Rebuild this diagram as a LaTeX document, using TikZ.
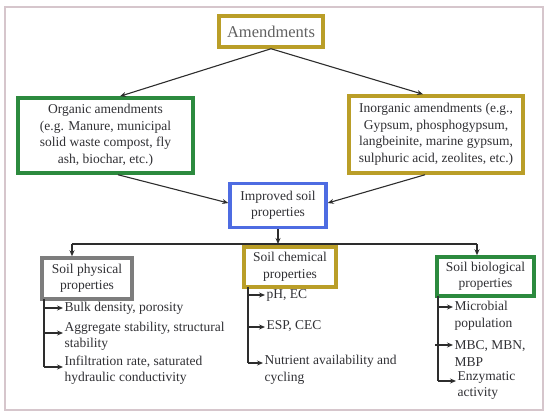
\documentclass[tikz,border=0pt]{standalone}
\usepackage{fontspec}
\setmainfont{Liberation Serif}
\usetikzlibrary{arrows.meta}
\definecolor{framec}{RGB}{214,198,204}
\definecolor{goldc}{RGB}{186,158,40}
\definecolor{greenc}{RGB}{44,138,62}
\definecolor{bluec}{RGB}{78,108,226}
\definecolor{grayc}{RGB}{125,125,125}
\definecolor{txt}{RGB}{48,48,52}
\definecolor{linec}{RGB}{45,45,45}
\tikzset{
  box/.style={draw, line width=3.5pt, inner sep=0pt, align=center, text=txt,
    font=\fontsize{13.5}{16.5}\selectfont},
  item/.style={anchor=west, align=left, inner sep=1.5pt, text=txt,
    font=\fontsize{13.5}{16.5}\selectfont},
  arr/.style={draw=linec, line width=1.1pt, -{Stealth[length=6pt,width=5pt]}},
  ln/.style={draw=linec, line width=1.1pt},
}
\begin{document}
\begin{tikzpicture}[x=1pt,y=-1pt]
\useasboundingbox (0,0) rectangle (550,415);
\draw[framec, line width=1.5pt] (5,7) rectangle (543,410);

\node[box, draw=goldc, minimum width=104pt, minimum height=31pt, text=black!62,
  font=\fontsize{16.5}{19}\selectfont] (amend) at (271,31.5) {Amendments};
\node[box, draw=greenc, minimum width=175pt, minimum height=75pt] (org) at (105.5,135.5)
  {Organic amendments\\(e.g. Manure, municipal\\solid waste compost, fly\\ash, biochar, etc.)};
\node[box, draw=goldc, minimum width=174pt, minimum height=77pt] (inorg) at (436,134.5)
  {Inorganic amendments (e.g.,\\Gypsum, phosphogypsum,\\langbeinite, marine gypsum,\\sulphuric acid, zeolites, etc.)};
\node[box, draw=bluec, minimum width=96pt, minimum height=44pt] (imp) at (278,205.5)
  {Improved soil\\properties};
\node[box, draw=grayc, minimum width=90pt, minimum height=41pt] (phys) at (87,278.5)
  {Soil physical\\properties};
\node[box, draw=goldc, minimum width=92pt, minimum height=40pt] (chem) at (290,267)
  {Soil chemical\\properties};
\node[box, draw=greenc, minimum width=97pt, minimum height=39pt] (bio) at (485.5,276.5)
  {Soil biological\\properties};

% top connectors
\draw[arr] (amend.south) -- ([xshift=14.5pt]org.north);
\draw[arr] (amend.south) -- ([xshift=-13pt]inorg.north);
\draw[arr] ([xshift=12.5pt]org.south) -- ([yshift=2.5pt]imp.west);
\draw[arr] ([xshift=-11pt]inorg.south) -- ([yshift=2.5pt]imp.east);

% branch line
\coordinate (bl) at (72,244);
\coordinate (bm) at (278,244);
\coordinate (br) at (477,244);
\draw[arr] (imp.south) -- (bm);
\draw[ln] (bl) -- (br);
\draw[arr] (bl) -- (bl |- phys.north);
\draw[arr] (br) -- (br |- bio.north);

% physical items
\node[item] (p1) at (63,308) {Bulk density, porosity};
\node[item] (p2) at (63,336.5) {Aggregate stability, structural\\stability};
\node[item] (p3) at (63,370) {Infiltration rate, saturated\\hydraulic conductivity};
\coordinate (pa) at (44,299);
\coordinate (pb) at (44,308);
\coordinate (pc) at (44,333);
\coordinate (pd) at (44,367);
\draw[ln] (pa) -- (pd);
\draw[arr] (pb) -- (pb -| p1.west);
\draw[arr] (pc) -- (pc -| p2.west);
\draw[arr] (pd) -- (pd -| p3.west);

% chemical items
\node[item] (c1) at (265,295) {pH, EC};
\node[item] (c2) at (265,326.5) {ESP, CEC};
\node[item] (c3) at (263,370) {Nutrient availability and\\cycling};
\coordinate (ca) at (248,287);
\coordinate (cb) at (248,295);
\coordinate (cc) at (248,327);
\coordinate (cd) at (248,363);
\draw[ln] (ca) -- (cd);
\draw[arr] (cb) -- (cb -| c1.west);
\draw[arr] (cc) -- (cc -| c2.west);
\draw[arr] (cd) -- (cd -| c3.west);

% biological items
\node[item] (b1) at (453,316) {Microbial\\population};
\node[item] (b2) at (453,353.5) {MBC, MBN,\\MBP};
\node[item] (b3) at (456,385.5) {Enzymatic\\activity};
\coordinate (ba) at (438,296);
\coordinate (bb) at (438,307);
\coordinate (bc) at (435,345);
\coordinate (bd) at (438,381);
\draw[ln] (ba) -- (bd);
\draw[arr] (bb) -- (bb -| b1.west);
\draw[arr] (bc) -- (bc -| b2.west);
\draw[arr] (bd) -- (bd -| b3.west);
\end{tikzpicture}
\end{document}
